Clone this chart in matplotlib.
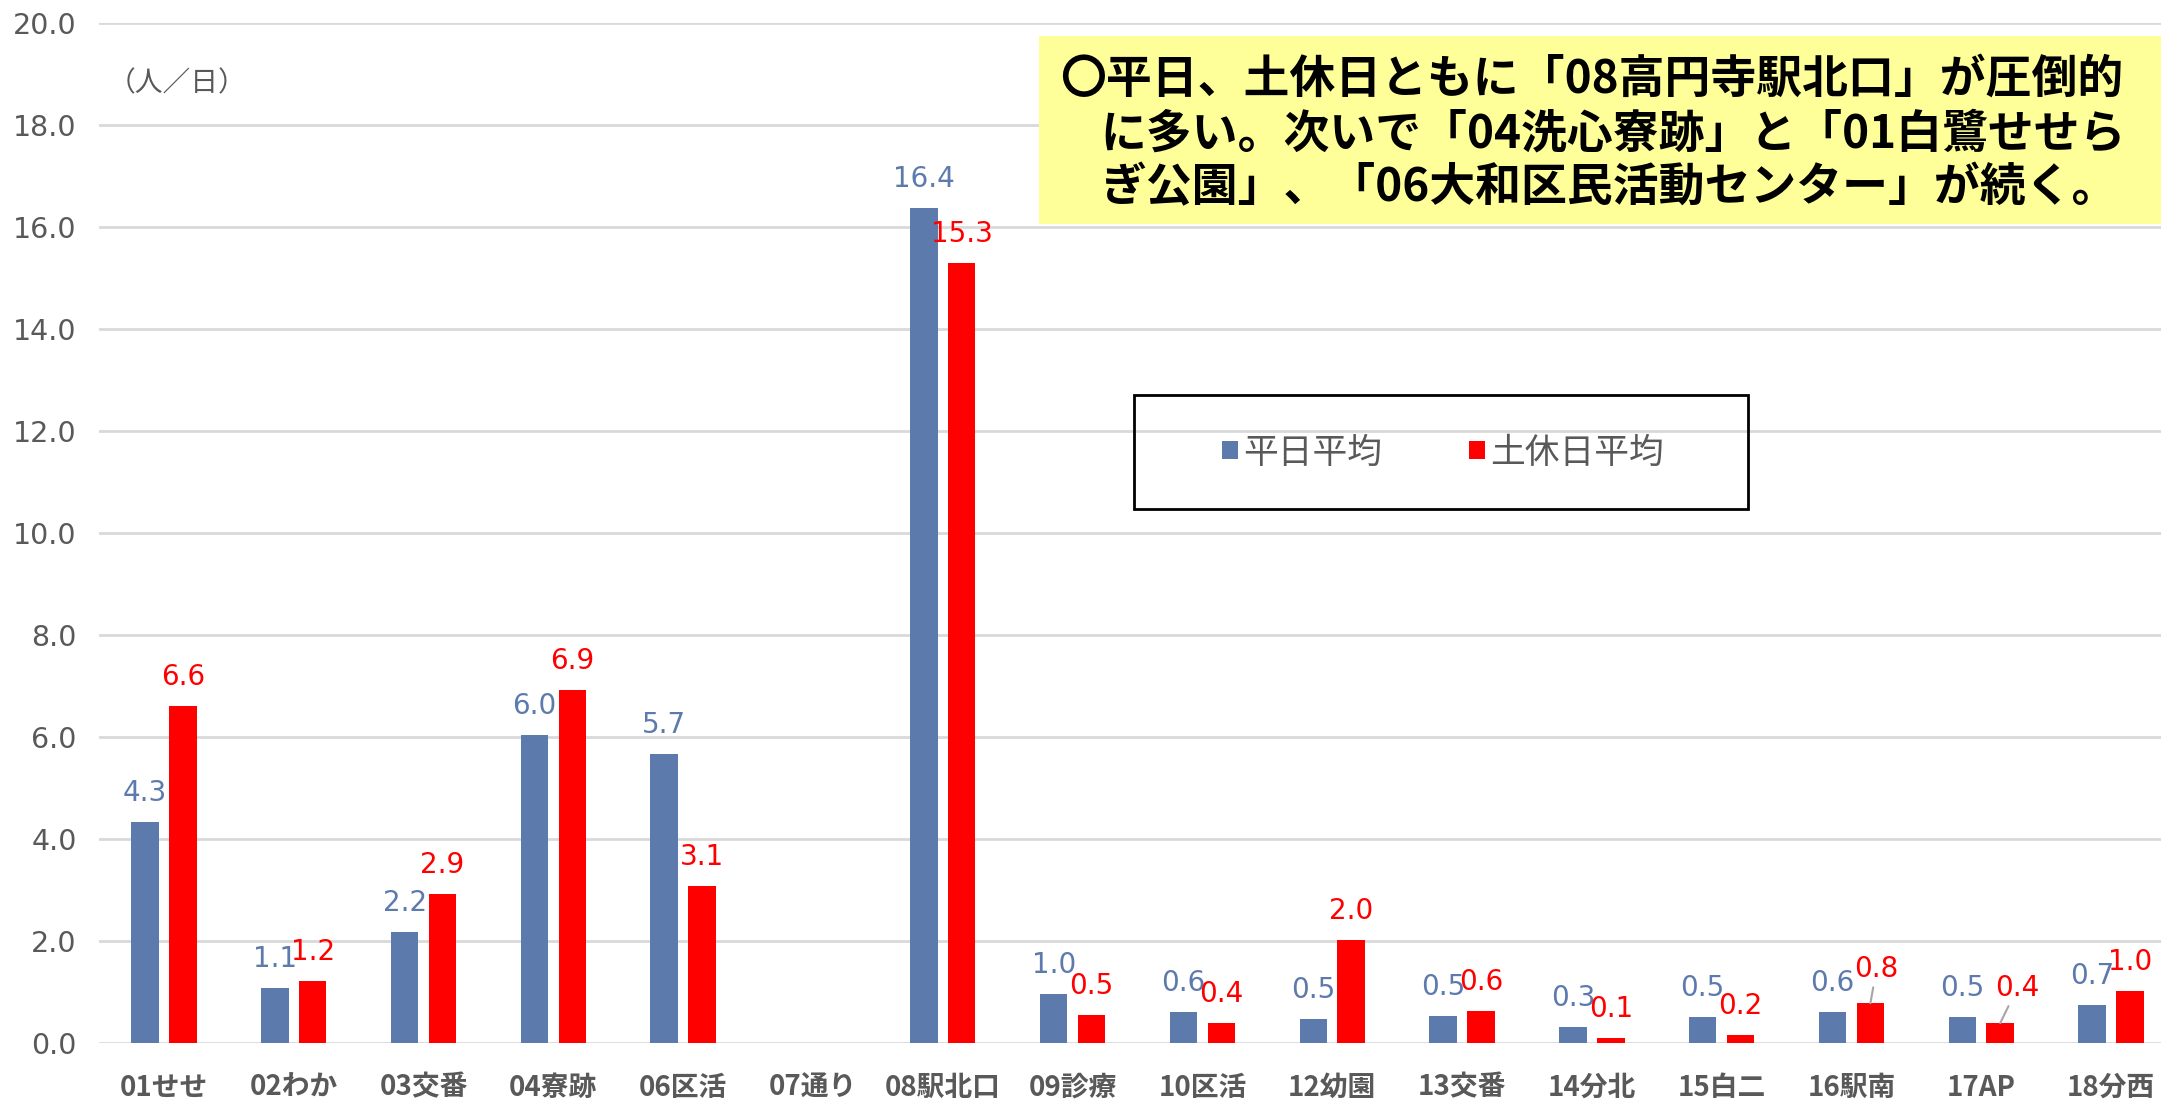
import matplotlib.pyplot as plt
import matplotlib.patches as patches
import numpy as np

plt.rcParams["font.family"] = ["DejaVu Sans", "Noto Sans CJK JP"]

categories = ["01せせ", "02わか", "03交番", "04寮跡", "06区活", "07通り", "08駅北口", "09診療",
              "10区活", "12幼園", "13交番", "14分北", "15白二", "16駅南", "17AP", "18分西"]
weekday = [4.33, 1.07, 2.17, 6.03, 5.67, np.nan, 16.37, 0.97,
           0.61, 0.48, 0.53, 0.31, 0.51, 0.61, 0.51, 0.74]
weekend = [6.60, 1.22, 2.93, 6.93, 3.07, np.nan, 15.30, 0.54,
           0.39, 2.01, 0.62, 0.09, 0.16, 0.78, 0.39, 1.01]
series_names = ["平日平均", "土休日平均"]
yticks = np.arange(0, 20.1, 2)
note_lines = ["〇平日、土休日ともに「08高円寺駅北口」が圧倒的",
              "に多い。次いで「04洗心寮跡」と「01白鷺せせら",
              "ぎ公園」、「06大和区民活動センター」が続く。"]

BLUE = "#5D7AAD"
RED = "#FF0000"
GRAY = "#595959"
W, H = 2161, 1102

fig = plt.figure(figsize=(W / 100, H / 100), dpi=100)
ax = fig.add_axes([99 / W, (H - 1043) / H, (2176 - 99) / W, (1043 - 23) / H])

x = np.arange(len(categories))
bw = 0.212
off = 0.146
b1 = ax.bar(x - off, weekday, bw, color=BLUE, label=series_names[0], zorder=3)
b2 = ax.bar(x + off, weekend, bw, color=RED, label=series_names[1], zorder=3)

ax.set_xlim(-0.5, len(categories) - 0.5)
ax.set_ylim(0, 20)
ax.set_yticks(yticks)
ax.set_yticklabels([f"{v:.1f}" for v in yticks], fontsize=20.5, color=GRAY)
ax.set_xticks(x)
ax.set_xticklabels(categories, fontsize=20, fontweight="bold", color=GRAY,
                   family=["Noto Sans CJK JP", "DejaVu Sans"])
ax.tick_params(axis="both", length=0)
ax.tick_params(axis="x", pad=22)
ax.tick_params(axis="y", pad=16)
ax.grid(axis="y", color="#D9D9D9", lw=2, zorder=0)
for s in ax.spines.values():
    s.set_visible(False)

# data labels; two of them are dragged aside with a leader line
moved = {(1, 13): (6, 34), (1, 14): (17, 35)}
for si, (vals, col) in enumerate([(weekday, BLUE), (weekend, RED)]):
    for i, v in enumerate(vals):
        if np.isnan(v):
            continue
        xi = x[i] + (off if si else -off)
        if (si, i) in moved:
            dx, dy = moved[(si, i)]
            ax.annotate(f"{v:.1f}", (xi, v), xytext=(dx, dy), textcoords="offset pixels",
                        ha="center", va="center", fontsize=20, color=col,
                        arrowprops=dict(arrowstyle="-", color="#A6A6A6", lw=1.5,
                                        shrinkA=1, shrinkB=0))
        else:
            ax.annotate(f"{v:.1f}", (xi, v), xytext=(0, 29), textcoords="offset pixels",
                        ha="center", va="center", fontsize=20, color=col)

ax.text(108 / W, 1 - 83 / H, "（人／日）", transform=fig.transFigure, fontsize=20,
        color=GRAY, va="center", ha="left", family=["Noto Sans CJK JP"])

# legend with its own frame
fig.patches.append(patches.Rectangle((1134 / W, 1 - 509 / H), 614 / W, 114 / H,
                                     transform=fig.transFigure, fill=False,
                                     edgecolor="black", lw=2))
fig.legend(handles=[b1, b2], loc="center", bbox_to_anchor=(1443 / W, 1 - 453 / H),
           ncol=2, frameon=False, handlelength=0.45, handleheight=0.45,
           handletextpad=0.15, columnspacing=2.5,
           prop={"family": "Noto Sans CJK JP", "size": 25}, labelcolor=GRAY)

# yellow note box
fig.patches.append(patches.Rectangle((1039 / W, 1 - 224 / H), (W - 1039) / W, 188 / H,
                                     transform=fig.transFigure, facecolor="#FFFF99",
                                     edgecolor="none", zorder=5))
for k, line in enumerate(note_lines):
    fig.text((1060 if k == 0 else 1100) / W, 1 - (80 + 54 * k) / H, line,
             fontsize=33, color="black", fontweight="bold", va="center", ha="left",
             family=["Noto Sans CJK JP"], zorder=6)

fig.savefig("out.png", dpi=100)
